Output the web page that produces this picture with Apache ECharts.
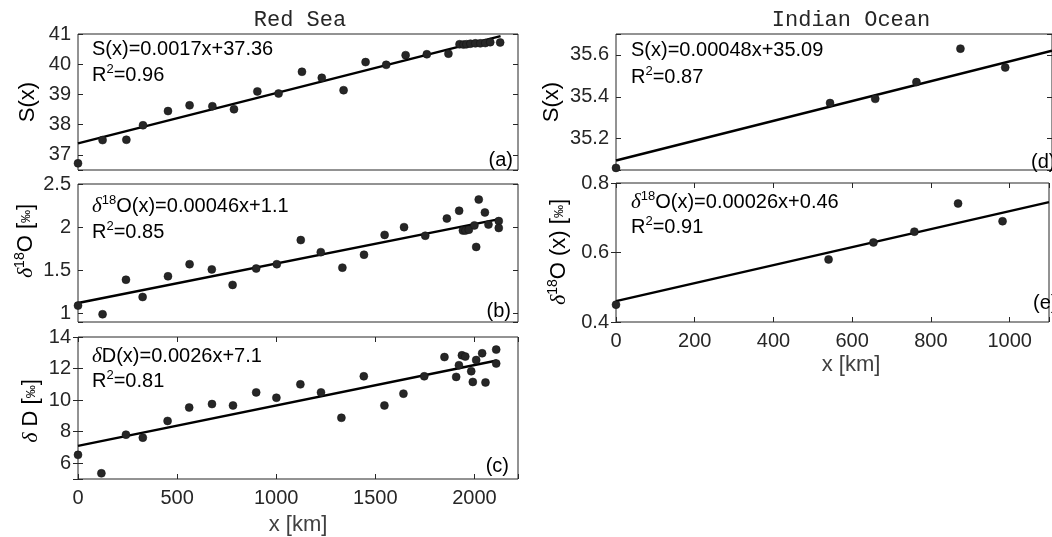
<!DOCTYPE html>
<html><head><meta charset="utf-8">
<script src="https://cdn.jsdelivr.net/npm/echarts@6/dist/echarts.min.js"></script>
<style>html,body{margin:0;padding:0;background:#fff}#c{width:1052px;height:537px}</style>
</head><body><div id="c"></div>
<script>
// ---- data ----
const xA=[0,124,244,328,454,563,678,787,905,1012,1130,1230,1340,1451,1555,1653,1760,1869,1925,1945,1960,1980,2005,2030,2055,2080,2130];
const sA=[36.72,37.49,37.50,37.98,38.45,38.64,38.61,38.51,39.10,39.03,39.75,39.55,39.14,40.07,39.98,40.30,40.33,40.35,40.66,40.65,40.66,40.68,40.69,40.69,40.70,40.73,40.72];
const fitA=[[0,37.38],[2132,40.93]];

const xB=[0,124,242,326,454,563,675,780,899,1003,1124,1225,1334,1443,1547,1645,1752,1861,1923,1942,1955,1972,2000,2009,2022,2053,2071,2123,2123];
const oB=[1.09,0.99,1.39,1.19,1.43,1.57,1.51,1.33,1.52,1.57,1.85,1.71,1.53,1.68,1.91,2.00,1.90,2.10,2.19,1.96,1.96,1.97,2.02,1.77,2.32,2.17,2.03,2.07,1.99];
const fitB=[[0,1.12],[2119,2.09]];

const xC=[0,118,242,327,452,561,676,782,899,1001,1122,1226,1329,1442,1546,1642,1747,1849,1908,1922,1937,1954,1984,1992,2009,2039,2056,2110,2110];
const dC=[6.53,5.36,7.81,7.62,8.68,9.53,9.75,9.66,10.49,10.15,11.00,10.49,8.88,11.51,9.66,10.41,11.51,12.73,11.47,12.21,12.84,12.76,11.83,11.15,12.54,12.97,11.12,13.20,12.32];
const fitC=[[0,7.10],[2113,12.51]];

const xD=[0,540,654,758,869,982];
const sD=[35.06,35.37,35.39,35.47,35.63,35.54];
const fitD=[[0,35.095],[1100,35.62]];

const xE=[0,540,654,758,869,982];
const oE=[0.45,0.58,0.629,0.66,0.741,0.69];
const fitE=[[0,0.46],[1100,0.745]];

const xTicksLeft=[0,500,1000,1500,2000];
const xTicksRight=[0,200,400,600,800,1000];
const yTicksA=[37,38,39,40,41];
const yTicksB=[1,1.5,2,2.5];
const yTicksC=[6,8,10,12,14];
const yTicksD=[35.2,35.4,35.6];
const yTicksE=[0.4,0.6,0.8];

// ---- chart ----
const TXT='#262626', FONT='Liberation Sans';
const chart=echarts.init(document.getElementById('c'));
const grids=[
  {left:78,top:34,width:440,height:136},
  {left:78,top:184,width:440,height:138},
  {left:78,top:337,width:440,height:142},
  {left:616,top:34,width:446,height:136},
  {left:616,top:183,width:446,height:139}
].map(g=>Object.assign(g,{show:true,borderColor:TXT,borderWidth:1,backgroundColor:'transparent',containLabel:false}));

function pick(list){return v=>list.some(t=>Math.abs(t-v)<1e-6)?String(v):'';}
function xAx(gi,max,interval,ticks,showTicks,showLabels,pos){
  return {gridIndex:gi,type:'value',min:0,max:max,interval:interval,position:pos||'bottom',
    axisLine:{show:false},splitLine:{show:false},
    axisTick:{show:showTicks,inside:true,length:5,lineStyle:{color:TXT,width:1}},
    axisLabel:{show:showLabels,formatter:pick(ticks),color:TXT,fontSize:20,fontFamily:FONT,margin:9,showMaxLabel:true}};
}
function yAx(gi,min,max,split,ticks,pos,showLabels){
  return {gridIndex:gi,type:'value',min:min,max:max,splitNumber:split,position:pos,
    axisLine:{show:false},splitLine:{show:false},
    axisTick:{show:true,inside:true,length:5,lineStyle:{color:TXT,width:1}},
    axisLabel:{show:showLabels,formatter:pick(ticks),color:TXT,fontSize:20,fontFamily:FONT,margin:7}};
}
const xAxis=[
  xAx(0,2220,500,xTicksLeft,false,false),
  xAx(1,2220,500,xTicksLeft,false,false),
  xAx(2,2220,500,xTicksLeft,true,true),
  xAx(3,1100,200,xTicksRight,false,false),
  xAx(4,1100,200,xTicksRight,true,true),
  xAx(2,2220,500,xTicksLeft,true,false,'top'),
  xAx(4,1100,200,xTicksRight,true,false,'top')
];
const yDefs=[[0,36.5,41,5,yTicksA],[1,0.9,2.5,3,yTicksB],[2,5,14,4,yTicksC],[3,35.05,35.7,3,yTicksD],[4,0.4,0.8,2,yTicksE]];
const yAxis=yDefs.map(d=>yAx(d[0],d[1],d[2],d[3],d[4],'left',true))
  .concat(yDefs.map(d=>yAx(d[0],d[1],d[2],d[3],d[4],'right',false)));

function pts(xs,ys){return xs.map((x,i)=>[x,ys[i]]);}
const sets=[[xA,sA,fitA],[xB,oB,fitB],[xC,dC,fitC],[xD,sD,fitD],[xE,oE,fitE]];
const series=[];
sets.forEach((s,i)=>{
  series.push({type:'line',xAxisIndex:i,yAxisIndex:i,data:s[2],symbol:'none',silent:true,
    lineStyle:{color:'#000',width:2.5},z:3,animation:false});
  series.push({type:'scatter',xAxisIndex:i,yAxisIndex:i,data:pts(s[0],s[1]),symbol:'circle',symbolSize:8,
    itemStyle:{color:'#262626',opacity:1,borderColor:'#111',borderWidth:0.5},z:4,animation:false});
});

const rich={
  n:{fontSize:20,fontFamily:FONT,lineHeight:24,color:'#000'},
  sup:{fontSize:13,fontFamily:FONT,lineHeight:13,verticalAlign:'top',color:'#000'},
  d:{fontSize:21,fontFamily:'Liberation Serif',fontStyle:'italic',lineHeight:24,color:'#000'}
};
const richY={
  n:{fontSize:22,fontFamily:FONT,lineHeight:26,color:'#404040'},
  sup:{fontSize:14,fontFamily:FONT,lineHeight:14,verticalAlign:'top',color:'#404040'},
  d:{fontSize:22,fontFamily:'Liberation Serif',fontStyle:'italic',lineHeight:26,color:'#404040'},
  pm:{fontSize:13,fontFamily:FONT,lineHeight:26,color:'#404040'}
};
function T(x,y,text,align,r){
  return {type:'text',x:x,y:y,silent:true,z:10,
    style:{text:text,rich:r||rich,align:align||'left',verticalAlign:'middle',textAlign:align||'left',textVerticalAlign:'middle',
      fontSize:20,fontFamily:FONT,fill:'#000'}};
}
function Y(x,y,text){
  const t=T(0,0,text,'center',richY); t.x=x; t.y=y; t.rotation=Math.PI/2; return t;
}
const graphic=[
  {type:'text',x:300,y:20,style:{text:'Red Sea',fontSize:22,fontFamily:'Liberation Mono',fill:TXT,align:'center',verticalAlign:'middle',textAlign:'center',textVerticalAlign:'middle'}},
  {type:'text',x:851,y:20,style:{text:'Indian Ocean',fontSize:22,fontFamily:'Liberation Mono',fill:TXT,align:'center',verticalAlign:'middle',textAlign:'center',textVerticalAlign:'middle'}},
  // annotations
  T(92,49,'{n|S(x)=0.0017x+37.36}'),
  T(92,75,'{n|R}{sup|2}{n|=0.96}'),
  T(92,206,'{d|δ}{sup|18}{n|O(x)=0.00046x+1.1}'),
  T(92,232,'{n|R}{sup|2}{n|=0.85}'),
  T(92,356,'{d|δ}{n|D(x)=0.0026x+7.1}'),
  T(92,381,'{n|R}{sup|2}{n|=0.81}'),
  T(631,50,'{n|S(x)=0.00048x+35.09}'),
  T(631,77,'{n|R}{sup|2}{n|=0.87}'),
  T(631,202,'{d|δ}{sup|18}{n|O(x)=0.00026x+0.46}'),
  T(631,227,'{n|R}{sup|2}{n|=0.91}'),
  T(513,160,'{n|(a)}','right'),
  T(511,311,'{n|(b)}','right'),
  T(509,466,'{n|(c)}','right'),
  T(1031,162,'{n|(d)}','left'),
  T(1033,303,'{n|(e)}','left'),
  // axis names
  Y(28,102,'{n|S(x)}'),
  Y(26,241,'{d|δ}{sup|18}{n|O [}{pm|‰}{n|]}'),
  Y(31,411,'{d|δ}{n| D [}{pm|‰}{n|]}'),
  Y(552,102,'{n|S(x)}'),
  Y(559,252,'{d|δ}{sup|18}{n|O (x) [}{pm|‰}{n|]}'),
  {type:'text',x:298,y:525,style:{text:'x [km]',fontSize:22,fontFamily:FONT,fill:'#404040',align:'center',verticalAlign:'middle',textAlign:'center',textVerticalAlign:'middle'}},
  {type:'text',x:851,y:365,style:{text:'x [km]',fontSize:22,fontFamily:FONT,fill:'#404040',align:'center',verticalAlign:'middle',textAlign:'center',textVerticalAlign:'middle'}}
];

chart.setOption({animation:false,backgroundColor:'#fff',grid:grids,xAxis:xAxis,yAxis:yAxis,series:series,graphic:graphic});
</script></body></html>
